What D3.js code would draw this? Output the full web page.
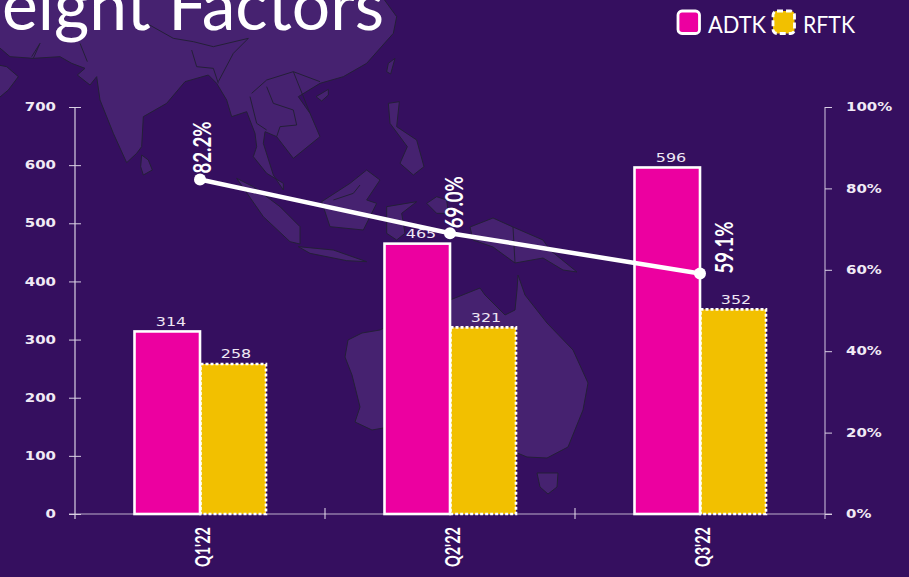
<!DOCTYPE html>
<html><head><meta charset="utf-8">
<script src="https://cdn.jsdelivr.net/npm/d3@7"></script>
<style>html,body{margin:0;padding:0;background:#350f5f;overflow:hidden}svg{display:block}</style>
</head><body><svg id="c" width="909" height="577"></svg>
<script>
const categories = ["Q1'22","Q2'22","Q3'22"];
const seriesNames = ["ADTK","RFTK"];
const adtk = [314,465,596];
const rftk = [258,321,352];
const ratio = [82.2,69.0,59.1];
const leftTicks = [0,100,200,300,400,500,600,700];
const rightTicks = [0,20,40,60,80,100];

const svg = d3.select("#c");
const W=909,H=577;
svg.append("rect").attr("width",W).attr("height",H).attr("fill","#350f5f");

// Decorative background map, traced in zoom-crop units (3x) of the page
const land3 = [
 [[-5,140],[30,170],[100,175],[180,170],[215,190],[255,205],[232,225],[270,255],[290,230],[300,300],[340,400],[380,488],[410,460],[425,440],[430,350],[500,310],[555,245],[625,225],[650,250],[680,300],[695,350],[740,335],[765,400],[770,440],[760,470],[800,520],[850,550],[850,570],[820,525],[790,430],[795,395],[830,410],[880,475],[960,410],[930,340],[895,290],[960,250],[1030,230],[1100,190],[1180,100],[1190,50],[1150,-5],[-5,-5]],
 [[-5,195],[20,200],[55,230],[25,270],[-5,295]],
 [[425,465],[445,480],[457,510],[430,525],[422,500]],
 [[948,290],[985,268],[985,285],[965,303]],
 [[1172,222],[1185,175],[1165,190],[1160,215]],
 [[1165,310],[1198,305],[1190,380],[1250,420],[1272,500],[1240,525],[1200,490],[1222,440],[1170,370]],
 [[710,535],[760,560],[840,620],[900,680],[900,732],[870,725],[790,650]],
 [[895,740],[1000,750],[1100,785],[1040,782],[930,760]],
 [[965,605],[1050,550],[1100,510],[1140,540],[1100,600],[1130,610],[1090,690],[990,680]],
 [[1160,620],[1250,605],[1205,640],[1215,700],[1190,720],[1160,700]],
 [[1280,610],[1310,590],[1340,600],[1345,640],[1310,640]]
];
const land = [
 [[470,227],[493,218],[513,227],[543,240],[550,250],[577,272],[563,270],[543,258],[515,263],[493,247],[473,240]],
 [[345,357],[348,340],[362,333],[380,330],[420,310],[450,300],[480,288],[485,295],[505,315],[515,310],[517,290],[518,275],[525,295],[547,323],[573,350],[588,383],[583,410],[568,447],[547,458],[527,457],[510,450],[470,440],[400,425],[372,430],[355,422],[360,407],[352,375]],
 [[537,473],[558,473],[557,487],[548,494],[540,487]]
];
const borders3 = [
 [[100,175],[120,130],[95,170]],[[240,130],[262,185]],[[440,70],[520,115],[580,125],[640,140],[745,115]],
 [[575,150],[590,200],[640,205],[655,250]],[[745,115],[700,160],[655,245]],[[755,280],[800,240],[880,215],[960,245]],
 [[750,290],[770,370],[800,390]],[[800,260],[820,310],[880,330],[890,375],[840,380],[830,410]],
 [[880,215],[930,340]],[[1000,600],[1060,580],[1080,555]]
];
const borders = [[[513,227],[515,263]]];
const line = d3.line();
const mapG = svg.append("g");
const allLand = land3.map(p=>p.map(q=>[q[0]/3,q[1]/3])).concat(land);
mapG.selectAll("path.land").data(allLand).join("path").attr("class","land")
  .attr("d",d=>line(d)+"Z").attr("fill","#462270").attr("stroke","#241f38").attr("stroke-width",1).attr("stroke-linejoin","round");
const allB = borders3.map(p=>p.map(q=>[q[0]/3,q[1]/3])).concat(borders);
mapG.selectAll("path.b").data(allB).join("path").attr("class","b")
  .attr("d",d=>line(d)).attr("fill","none").attr("stroke","#241f38").attr("stroke-width",1);

// Title (cut off by the page edge, as in the reference)
svg.append("text").attr("x",2).attr("y",30)
  .attr("font-family","Lato, 'Open Sans', sans-serif").attr("font-size",70).attr("fill","#fff")
  .attr("textLength",382).attr("lengthAdjust","spacingAndGlyphs").text("eight Factors");

// Scales
const x0 = d3.scaleBand().domain(categories).range([75,825]).paddingInner(0.472).paddingOuter(0.236);
const x1 = d3.scaleBand().domain(seriesNames).range([0,x0.bandwidth()]);
const xc = d3.scalePoint().domain(categories).range([200,700]);
const y = d3.scaleLinear().domain([0,700]).range([514,107]);
const yR = d3.scaleLinear().domain([0,100]).range([514,107]);
const xEdges = d3.scaleBand().domain(categories).range([75,825]);

// Axis baseline
svg.append("line").attr("x1",69).attr("x2",832).attr("y1",514).attr("y2",514).attr("stroke","#fff").attr("stroke-opacity",0.45).attr("stroke-width",1.5);

function widen(sel,k){ sel.each(function(){ const n=this.getComputedTextLength(); d3.select(this).attr("textLength",n*k).attr("lengthAdjust","spacingAndGlyphs"); }); }

// Left axis
const axisColor="#d9cfe3";
const gL = svg.append("g").attr("transform","translate(75,0)")
  .call(d3.axisLeft(y).tickValues(leftTicks).tickSize(6).tickPadding(13).tickFormat(d3.format("d")));
gL.select(".domain").attr("d","M0,107V519").attr("stroke",axisColor).attr("stroke-width",1.2);
gL.selectAll(".tick line").attr("x1",-6).attr("x2",6).attr("stroke",axisColor).attr("stroke-width",1);
gL.selectAll(".tick text").attr("font-family","'DejaVu Sans',sans-serif").attr("font-weight","bold").attr("font-size",11.5).attr("fill","#f1eaf5").call(widen,1.3);

// Right axis
const gR = svg.append("g").attr("transform","translate(825,0)")
  .call(d3.axisRight(yR).tickValues(rightTicks).tickSize(7).tickPadding(14).tickFormat(d=>d+"%"));
gR.select(".domain").attr("d","M0,107V519").attr("stroke","#b9a9cb").attr("stroke-width",1.2);
gR.selectAll(".tick line").attr("stroke",axisColor).attr("stroke-width",1);
gR.selectAll(".tick text").attr("font-family","'DejaVu Sans',sans-serif").attr("font-weight","bold").attr("font-size",11.5).attr("fill","#f1eaf5").call(widen,1.3);

// Category separators
svg.append("g").selectAll("line").data(categories.slice(1)).join("line")
  .attr("x1",d=>xEdges(d)).attr("x2",d=>xEdges(d)).attr("y1",508).attr("y2",519).attr("stroke","#e8e0ef").attr("stroke-width",1);

// Category labels
svg.append("g").selectAll("text").data(categories).join("text")
  .attr("transform",d=>`translate(${xc(d)+10},567) rotate(-90)`)
  .attr("font-family","Lato, sans-serif").attr("font-weight","bold").attr("font-size",21).attr("fill","#fff")
  .attr("textLength",40).attr("lengthAdjust","spacingAndGlyphs").text(d=>d);

// Bars
const rows = categories.map((c,i)=>({c,i}));
const colors = {ADTK:"#ec00a0",RFTK:"#f2c000"};
const sw = 2.6;
function bars(name,vals,dash){
  const g = svg.append("g");
  g.selectAll("rect").data(rows).join("rect")
   .attr("x",d=>x0(d.c)+x1(name)+0.5)
   .attr("y",d=>y(vals[d.i]))
   .attr("width",x1.bandwidth()-0.5)
   .attr("height",d=>y(0)-y(vals[d.i]))
   .attr("fill",colors[name]).attr("stroke","#fff").attr("stroke-width",sw)
   .attr("stroke-dasharray",dash||null);
  g.selectAll("text").data(rows).join("text")
   .attr("x",d=>x0(d.c)+x1(name)+x1.bandwidth()/2+(name==="ADTK"?4:3))
   .attr("y",d=>y(vals[d.i])-5.5).attr("text-anchor","middle")
   .attr("font-family","'DejaVu Sans',sans-serif").attr("font-size",12).attr("fill","#efe7f4")
   .text(d=>vals[d.i]).call(widen,1.33);
}
bars("RFTK",rftk,"3,2");
bars("ADTK",adtk,null);

// Line on secondary axis
const lineGen = d3.line().x((d,i)=>xc(categories[i])).y(d=>yR(d));
svg.append("path").attr("d",lineGen(ratio)).attr("fill","none").attr("stroke","#fff").attr("stroke-width",4.5);
svg.append("g").selectAll("circle").data(ratio).join("circle")
  .attr("cx",(d,i)=>xc(categories[i])).attr("cy",d=>yR(d)).attr("r",6).attr("fill","#fff");
const labelDx=[11,13,33], labelDy=[-6,-5,0];
svg.append("g").selectAll("text").data(ratio).join("text")
  .attr("transform",(d,i)=>`translate(${xc(categories[i])+labelDx[i]},${yR(d)+labelDy[i]}) rotate(-90)`)
  .attr("font-family","Lato, sans-serif").attr("font-weight","bold").attr("font-size",24).attr("fill","#fff")
  .attr("textLength",52).attr("lengthAdjust","spacingAndGlyphs").text(d=>d.toFixed(1)+"%");

// Legend
const legX = d3.scaleOrdinal().domain(seriesNames).range([678,773]);
const leg = svg.append("g").selectAll("g").data(seriesNames).join("g").attr("transform",d=>`translate(${legX(d)},11)`);
leg.append("rect").attr("width",21.5).attr("height",22.5).attr("rx",4)
  .attr("fill",d=>colors[d]).attr("stroke","#fff").attr("stroke-width",2.8)
  .attr("stroke-dasharray",d=>d==="RFTK"?"6,3":null);
leg.append("text").attr("x",30).attr("y",21.5)
  .attr("font-family","Lato, sans-serif").attr("font-size",23).attr("fill","#fff")
  .attr("textLength",d=>d==="ADTK"?58:52).attr("lengthAdjust","spacingAndGlyphs").text(d=>d);
</script></body></html>
